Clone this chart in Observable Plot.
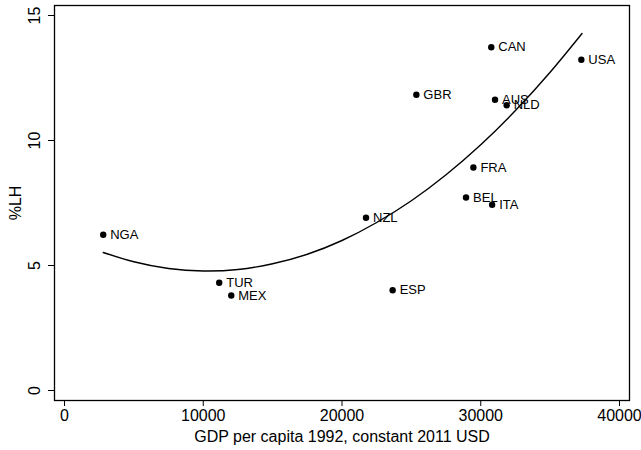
<!DOCTYPE html>
<html><head><meta charset="utf-8">
<script src="https://cdn.jsdelivr.net/npm/d3@7"></script>
<script src="https://cdn.jsdelivr.net/npm/@observablehq/plot@0.6"></script>
<style>body{margin:0;background:#fff;}</style>
</head><body><div id="chart"></div>
<script>
// Country observations
const countries = ["NGA","TUR","MEX","NZL","ESP","GBR","CAN","AUS","NLD","FRA","BEL","ITA","USA"];
const gdp = [2790,11150,12020,21730,23650,25360,30760,31030,31870,29470,28940,30820,37250];
const lh  = [6.23,4.31,3.80,6.91,4.01,11.83,13.73,11.63,11.41,8.92,7.72,7.43,13.23];

// Fitted curve
const fitGdp = [2790,5000,7500,10000,12500,15000,17500,20000,22500,25000,27500,30000,32500,35000,37300];
const fitLh  = [5.52,5.15,4.88,4.78,4.84,5.07,5.45,6.00,6.72,7.59,8.63,9.83,11.20,12.73,14.28];

const xTicks = [0,10000,20000,30000,40000];
const yTicks = [0,5,10,15];
const xTitle = "GDP per capita 1992, constant 2011 USD";
const yTitle = "%LH";

const points = countries.map((c,i)=>({c, x:gdp[i], y:lh[i]}));
const fit = fitGdp.map((x,i)=>({x, y:fitLh[i]}));

const chart = Plot.plot({
  width: 641, height: 450,
  marginLeft: 54, marginRight: 12, marginTop: 5, marginBottom: 50,
  style: {fontFamily: "'Liberation Sans', Arial, sans-serif", fontSize: "16px", color: "black", background: "white"},
  x: {domain: [0,40000], insetLeft: 10, insetRight: 10},
  y: {domain: [0,15], insetTop: 10, insetBottom: 10},
  marks: [
    Plot.frame({stroke: "black", strokeWidth: 1.3}),
    Plot.axisX({ticks: xTicks, tickSize: 6, tickPadding: 3, tickFormat: d3.format("d"), fontSize: 16,
      label: xTitle, labelAnchor: "center", labelArrow: "none", labelOffset: 41}),
    Plot.axisY({ticks: yTicks, tickSize: 6, tickRotate: -90, tickPadding: 9, tickFormat: d3.format("d"), fontSize: 16,
      label: yTitle, labelAnchor: "center", labelArrow: "none", labelOffset: 45}),
    Plot.line(fit, {x: "x", y: "y", curve: "natural", stroke: "black", strokeWidth: 1.4}),
    Plot.dot(points, {x: "x", y: "y", r: 3.2, fill: "black"}),
    Plot.text(points, {x: "x", y: "y", text: "c", dx: 7, textAnchor: "start", fontSize: 13, fill: "black"})
  ]
});
document.getElementById("chart").appendChild(chart);
</script>
</body></html>
